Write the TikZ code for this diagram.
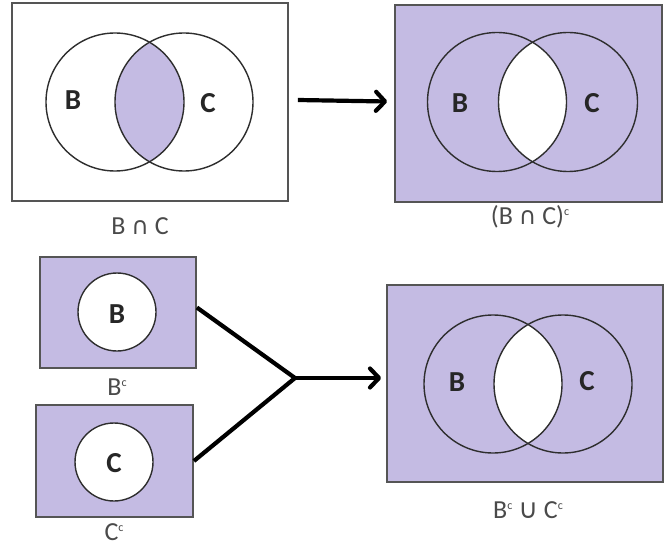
\documentclass[tikz,border=0pt]{standalone}
\usepackage{fontspec}
\setmainfont{Carlito}
\newfontfamily\symf{DejaVu Sans}
\usetikzlibrary{arrows.meta}
\definecolor{lav}{HTML}{C4BBE3}
\definecolor{framec}{HTML}{555555}
\definecolor{ringc}{HTML}{2E2E2E}
\definecolor{txtc}{HTML}{4A4A4A}
\newcommand{\supc}{\raisebox{9pt}{\fontsize{12}{12}\selectfont c}}
\begin{document}
\begin{tikzpicture}[x=1pt,y=-1pt,
  panel/.style={draw=framec,line width=1.8pt,inner sep=0pt},
  ring/.style={draw=ringc,line width=1.4pt},
  inlabel/.style={font=\bfseries\fontsize{29}{29}\selectfont,text=black!85},
  caption/.style={font=\fontsize{26}{26}\selectfont,text=txtc},
  conn/.style={line width=4.2pt,black,line join=miter},
  tip/.style={-{Straight Barb[length=9pt,width=19pt,round]}}]
\useasboundingbox (0,0) rectangle (666,548);
\fill[white] (0,0) rectangle (666,548);

% panels
\node[panel,minimum width=276pt,minimum height=198pt] (tl) at (150,102) {};
\node[panel,fill=lav,minimum width=267pt,minimum height=197pt] (tr) at (528.5,103.5) {};
\node[panel,fill=lav,minimum width=156pt,minimum height=111pt] (bc) at (118,312.5) {};
\node[panel,fill=lav,minimum width=157pt,minimum height=112pt] (cc) at (114.5,461) {};
\node[panel,fill=lav,minimum width=276pt,minimum height=197pt] (br) at (525,383.5) {};

% top-left: B cap C shaded
\begin{scope}
  \clip (115,102) circle[radius=69pt];
  \fill[lav] (184,102) circle[radius=69pt];
\end{scope}
\draw[ring] (115,102) circle[radius=69pt];
\draw[ring] (184,102) circle[radius=69pt];

% top-right: complement
\begin{scope}
  \clip (497,102) circle[radius=69.5pt];
  \fill[white] (568,102) circle[radius=69.5pt];
\end{scope}
\draw[ring] (497,102) circle[radius=69.5pt];
\draw[ring] (568,102) circle[radius=69.5pt];

% bottom-right
\begin{scope}
  \clip (493,384) circle[radius=69pt];
  \fill[white] (563,384) circle[radius=69pt];
\end{scope}
\draw[ring] (493,384) circle[radius=69pt];
\draw[ring] (563,384) circle[radius=69pt];

% single circles
\draw[ring,fill=white] (117,312) circle[radius=39pt];
\draw[ring,fill=white] (114,462) circle[radius=39pt];

% inner labels
\node[inlabel] (lb1) at (73,100) {B};
\node[inlabel] (lc1) at (208,103) {C};
\node[inlabel] (lb2) at (460,103) {B};
\node[inlabel] (lc2) at (592,103) {C};
\node[inlabel] (lb3) at (457,382) {B};
\node[inlabel] (lc3) at (587,381) {C};
\node[inlabel] (lb4) at (117,314) {B};
\node[inlabel] (lc4) at (114,463) {C};

% captions
\node[caption] (cap1) at (140,226) {B {\symf\fontsize{24}{24}\selectfont ∩} C};
\node[caption] (cap2) at (530,217) {(B {\symf\fontsize{24}{24}\selectfont ∩} C)\supc};
\node[caption] (cap3) at (117,387) {B\supc};
\node[caption] (cap4) at (114,532) {C\supc};
\node[caption] (cap5) at (528,510) {B\supc\ {\symf\fontsize{27}{27}\selectfont ∪} C\supc};

% connectors
\draw[conn,tip] ([xshift=9pt,yshift=2pt]tl.east) -- ([xshift=-7pt,yshift=2pt]tr.west);
\coordinate (apex) at (295,378);
\draw[conn] ([yshift=5pt]bc.east) -- (apex) -- (cc.east);
\draw[conn,tip] (apex) -- ([xshift=-5pt]br.west |- apex);
\end{tikzpicture}
\end{document}
